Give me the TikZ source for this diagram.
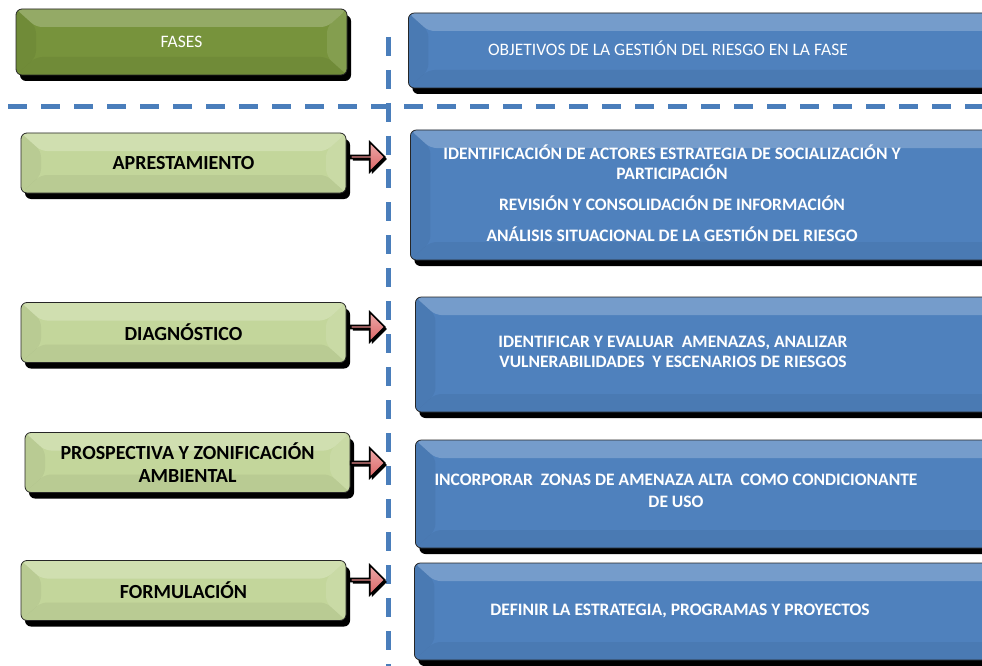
\documentclass[tikz,border=0pt]{standalone}
\usepackage{fontspec}
\setmainfont{Carlito}
\usetikzlibrary{shapes.arrows, shadows, positioning}

\definecolor{fasegreen}{HTML}{77933C}
\definecolor{phasegreen}{HTML}{C3D69B}
\definecolor{goalblue}{HTML}{4F81BD}
\definecolor{sepblue}{HTML}{4A7EBB}
\definecolor{pointred}{HTML}{DC6464}

\begin{document}
\begin{tikzpicture}[x=1pt, y=-1pt,
    bevelbox/.style={rounded corners=6pt, draw=black!85, line width=0.8pt, inner sep=0pt,
        drop shadow={shadow xshift=4pt, shadow yshift=-6pt, fill=black, opacity=1},
        path picture={
            \coordinate (nw) at (path picture bounding box.north west);
            \coordinate (ne) at (path picture bounding box.north east);
            \coordinate (sw) at (path picture bounding box.south west);
            \coordinate (se) at (path picture bounding box.south east);
            \fill[white, opacity=0.22] (nw) -- (ne) -- ([shift={(-20pt,-18pt)}]ne) -- ([shift={(20pt,-18pt)}]nw) -- cycle;
            \fill[black, opacity=0.05] (nw) -- ([shift={(20pt,-18pt)}]nw) -- ([shift={(20pt,18pt)}]sw) -- (sw) -- cycle;
            \fill[white, opacity=0.10] (ne) -- ([shift={(-20pt,-18pt)}]ne) -- ([shift={(-20pt,18pt)}]se) -- (se) -- cycle;
            \fill[black, opacity=0.05] (sw) -- (se) -- ([shift={(-20pt,18pt)}]se) -- ([shift={(20pt,18pt)}]sw) -- cycle;
        }},
    fasebox/.style={bevelbox, fill=fasegreen, minimum width=331pt, minimum height=66pt,
        text=white, font=\fontsize{17.5}{20}\selectfont},
    phasebox/.style={bevelbox, fill=phasegreen, minimum width=325pt, minimum height=60pt,
        align=center, font=\fontsize{20}{23}\selectfont\bfseries},
    goalbox/.style={bevelbox, fill=goalblue, minimum width=600pt, anchor=west},
    goaltext/.style={text=white, align=center, font=\fontsize{17.5}{20}\selectfont\bfseries},
    pointer/.style={single arrow, single arrow head extend=7pt, minimum height=34pt,
        minimum width=30pt, inner sep=0pt, draw=black, line width=1.6pt,
        top color=pointred!55!white, bottom color=pointred,
        drop shadow={shadow xshift=2pt, shadow yshift=-2pt, fill=black, opacity=1}},
    sepline/.style={draw=sepblue, line width=5pt, dash pattern=on 19pt off 14pt}
]
    \path[use as bounding box, clip] (0,0) rectangle (982,666);

    \draw[sepline] (8,107) -- (982,107);
    \draw[sepline] (388,37) -- (388,666);

    \node[fasebox] (fases) at (181.5,42) {FASES};
    \node[goalbox, minimum height=75pt] (goals) at (408,50.5) {};
    \node[text=white, font=\fontsize{17.5}{20}\selectfont] (goalstitle) at (668,48) {OBJETIVOS DE LA GESTIÓN DEL RIESGO EN LA FASE};

    \node[phasebox] (apr) at (183.5,163) {APRESTAMIENTO};
    \node[phasebox] (diag) at (183.5,332.5) {DIAGNÓSTICO};
    \node[phasebox] (pros) at (187.5,462.5) {PROSPECTIVA Y ZONIFICACIÓN\\AMBIENTAL};
    \node[phasebox] (form) at (183.5,590.5) {FORMULACIÓN};

    \node[pointer] (aprarrow) at (367,157) {};
    \node[pointer] (diagarrow) at (367,327) {};
    \node[pointer] (prosarrow) at (367,463) {};
    \node[pointer] (formarrow) at (367,580) {};

    \node[goalbox, minimum height=130pt] (aprgoal) at (410,195) {};
    \node[goalbox, minimum height=115pt] (diaggoal) at (415,354.5) {};
    \node[goalbox, minimum height=108pt] (prosgoal) at (415,494) {};
    \node[goalbox, minimum height=97pt] (formgoal) at (414,611.5) {};

    \node[goaltext] (aprtext) at (672,193) {IDENTIFICACIÓN DE ACTORES ESTRATEGIA DE SOCIALIZACIÓN Y\\PARTICIPACIÓN\\[11pt]REVISIÓN Y CONSOLIDACIÓN DE INFORMACIÓN\\[11pt]ANÁLISIS SITUACIONAL DE LA GESTIÓN DEL RIESGO};
    \node[goaltext] (diagtext) at (673,352) {IDENTIFICAR Y EVALUAR~ AMENAZAS, ANALIZAR\\VULNERABILIDADES~ Y ESCENARIOS DE RIESGOS};
    \node[goaltext, font=\fontsize{17.5}{22}\selectfont\bfseries] (prostext) at (676,491) {INCORPORAR~ ZONAS DE AMENAZA ALTA~ COMO CONDICIONANTE\\DE USO};
    \node[goaltext] (formtext) at (680,611) {DEFINIR LA ESTRATEGIA, PROGRAMAS Y PROYECTOS};
\end{tikzpicture}
\end{document}
